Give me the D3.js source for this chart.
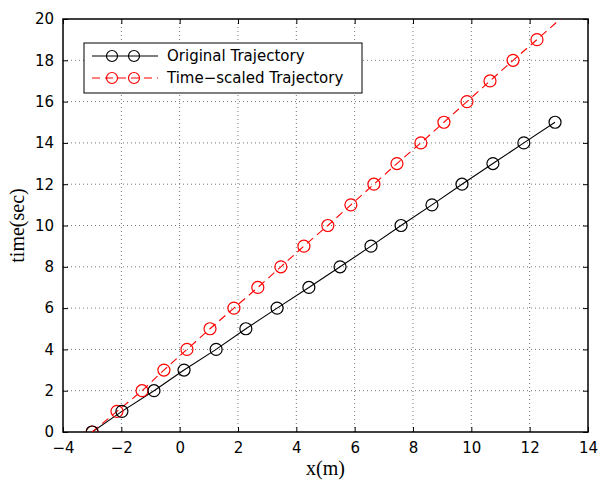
<!DOCTYPE html>
<html>
<head>
<meta charset="utf-8">
<script src="https://cdn.jsdelivr.net/npm/d3@7"></script>
<style>
  body { margin: 0; background: #fff; }
  .tick text { font-family: "DejaVu Sans", sans-serif; font-size: 15px; fill: #000; }
</style>
</head>
<body>
<script>
// Data (x in m, time in sec)
var origX = [-3.0, -1.98, -0.88, 0.15, 1.25, 2.27, 3.34, 4.43, 5.50, 6.56, 7.59, 8.65, 9.68, 10.74, 11.80, 12.87];
var origT = [0, 1, 2, 3, 4, 5, 6, 7, 8, 9, 10, 11, 12, 13, 14, 15];
var scaledX = [-3.0, -2.15, -1.29, -0.54, 0.25, 1.04, 1.86, 2.68, 3.47, 4.26, 5.08, 5.87, 6.66, 7.45, 8.27, 9.06, 9.85, 10.64, 11.43, 12.25, 13.84];
var scaledT = [0, 1, 2, 3, 4, 5, 6, 7, 8, 9, 10, 11, 12, 13, 14, 15, 16, 17, 18, 19, 21];
var xTicks = [-4, -2, 0, 2, 4, 6, 8, 10, 12, 14];
var yTicks = [0, 2, 4, 6, 8, 10, 12, 14, 16, 18, 20];
var seriesNames = ["Original Trajectory", "Time\u2212scaled Trajectory"];

var W = 611, H = 481;
var margin = {top: 19, right: 23, bottom: 49, left: 63},
    width = W - margin.left - margin.right,
    height = H - margin.top - margin.bottom;

var svg = d3.select("body").append("svg")
    .attr("width", W)
    .attr("height", H);
var g = svg.append("g")
    .attr("transform", "translate(" + margin.left + "," + margin.top + ")");

var x = d3.scaleLinear().domain([-4, 14]).range([0, width]);
var y = d3.scaleLinear().domain([0, 20]).range([height, 0]);

// Grid (dotted)
g.append("g").selectAll("line.gx")
    .data(xTicks.slice(1, -1)).enter().append("line")
    .attr("x1", d => x(d)).attr("x2", d => x(d))
    .attr("y1", 0).attr("y2", height)
    .attr("stroke", "#777").attr("stroke-width", 1)
    .attr("stroke-dasharray", "1,3");
g.append("g").selectAll("line.gy")
    .data(yTicks.slice(1, -1)).enter().append("line")
    .attr("x1", 0).attr("x2", width)
    .attr("y1", d => y(d)).attr("y2", d => y(d))
    .attr("stroke", "#777").attr("stroke-width", 1)
    .attr("stroke-dasharray", "1,3");

// Axes, ticks inward on all four sides
g.append("g").attr("transform", "translate(0," + height + ")")
    .call(d3.axisBottom(x).tickValues(xTicks).tickSizeInner(-5).tickSizeOuter(0).tickPadding(10)
        .tickFormat(d => d < 0 ? "\u2212" + Math.abs(d) : d));
g.append("g")
    .call(d3.axisLeft(y).tickValues(yTicks).tickSizeInner(-5).tickSizeOuter(0).tickPadding(9));
g.append("g").call(d3.axisTop(x).tickValues(xTicks).tickSizeInner(-5).tickSizeOuter(0).tickFormat(""));
g.append("g").attr("transform", "translate(" + width + ",0)")
    .call(d3.axisRight(y).tickValues(yTicks).tickSizeInner(-5).tickSizeOuter(0).tickFormat(""));
g.selectAll(".domain").remove();
g.selectAll(".tick line").attr("stroke", "#000");

g.append("rect")
    .attr("width", width).attr("height", height)
    .attr("fill", "none").attr("stroke", "#000").attr("stroke-width", 1.5);

// Clip
g.append("clipPath").attr("id", "clip")
  .append("rect").attr("width", width).attr("height", height);
var plot = g.append("g").attr("clip-path", "url(#clip)");

var line = d3.line().x(d => x(d[0])).y(d => y(d[1]));
var orig = origX.map((v, i) => [v, origT[i]]);
var scaled = scaledX.map((v, i) => [v, scaledT[i]]);

plot.append("path").datum(orig).attr("d", line)
    .attr("fill", "none").attr("stroke", "#000").attr("stroke-width", 1.1);
plot.append("path").datum(scaled).attr("d", line)
    .attr("fill", "none").attr("stroke", "#ff0000").attr("stroke-width", 1.1)
    .attr("stroke-dasharray", "8,5");

plot.selectAll("circle.s").data(scaled).enter().append("circle")
    .attr("cx", d => x(d[0])).attr("cy", d => y(d[1])).attr("r", 6)
    .attr("fill", "none").attr("stroke", "#ff0000").attr("stroke-width", 1.2);
plot.selectAll("circle.o").data(orig).enter().append("circle")
    .attr("cx", d => x(d[0])).attr("cy", d => y(d[1])).attr("r", 6)
    .attr("fill", "none").attr("stroke", "#000").attr("stroke-width", 1.2);

// Legend
var leg = svg.append("g").attr("transform", "translate(84,43)");
leg.append("rect").attr("width", 278).attr("height", 50)
    .attr("fill", "#fff").attr("stroke", "#000").attr("stroke-width", 1);
var legStyles = [{c: "#000", dash: null}, {c: "#ff0000", dash: "8,5"}];
seriesNames.forEach(function(name, i) {
    var ly = 13 + i * 22;
    var row = leg.append("g");
    row.append("line").attr("x1", 8).attr("x2", 74).attr("y1", ly).attr("y2", ly)
        .attr("stroke", legStyles[i].c).attr("stroke-width", 1.1)
        .attr("stroke-dasharray", legStyles[i].dash);
    [28, 50].forEach(function(cx) {
        row.append("circle").attr("cx", cx).attr("cy", ly).attr("r", 5.5)
            .attr("fill", "none").attr("stroke", legStyles[i].c).attr("stroke-width", 1.2);
    });
    row.append("text").attr("x", 83).attr("y", ly).attr("dy", "0.35em")
        .style("font-family", "DejaVu Sans, sans-serif").style("font-size", "15px")
        .text(name);
});

// Axis labels
svg.append("text")
    .attr("x", margin.left + width / 2).attr("y", 475)
    .attr("text-anchor", "middle")
    .style("font-family", "Liberation Serif, serif").style("font-size", "20px")
    .text("x(m)");
svg.append("text")
    .attr("transform", "translate(24," + (margin.top + height / 2) + ")rotate(-90)")
    .attr("text-anchor", "middle")
    .style("font-family", "Liberation Serif, serif").style("font-size", "20px")
    .text("time(sec)");
</script>
</body>
</html>
